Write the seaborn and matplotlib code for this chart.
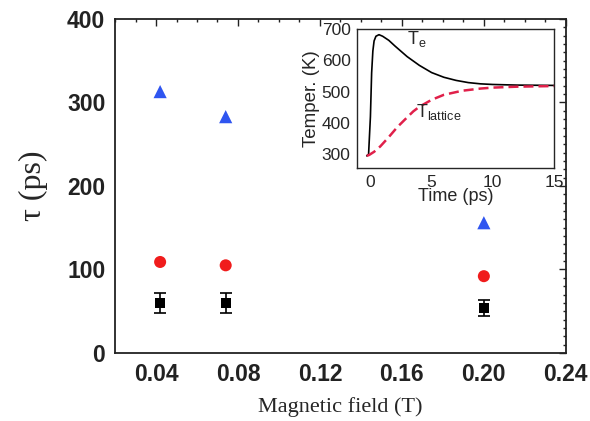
import numpy as np
import pandas as pd
import matplotlib
matplotlib.use("Agg")
import matplotlib.pyplot as plt
import seaborn as sns
from matplotlib.ticker import MultipleLocator

# main panel data
field = [0.042, 0.074, 0.200]
tau_tri = [313, 283, 156]
tau_circ = [109, 105, 92]
tau_sq = [60, 60, 54]
tau_sq_err = [12, 12, 10]

# inset data
t_e = [-0.3, -0.15, 0.0, 0.1, 0.2, 0.3, 0.45, 0.7, 1.0, 1.5, 2.0, 3.0, 4.0, 5.0,
       6.0, 7.0, 8.0, 9.0, 10.0, 12.0, 15.0]
temp_e = [295, 300, 420, 560, 630, 662, 677, 682, 677, 664, 646, 612, 584, 561,
          546, 536, 529, 525, 523, 521, 520]
t_lat = [-0.3, -0.1, 0.3, 0.8, 1.5, 2.2, 3.0, 3.5, 4.0, 5.0, 6.0, 7.5, 9.0,
         10.0, 12.0, 15.0]
temp_lat = [295, 298, 308, 325, 355, 387, 418, 437, 452, 474, 490, 503, 510,
            513, 516, 518]

sns.set_style("white")
plt.rcParams["font.family"] = ["Liberation Sans", "DejaVu Sans"]

fig = plt.figure(figsize=(5.9, 4.21), dpi=100)
ax = fig.add_axes([0.195, 0.1615, 0.764, 0.7935])

sns.scatterplot(x=field, y=tau_tri, marker="^", s=90, color="#2f55f0",
                edgecolor="none", ax=ax, zorder=3)
sns.scatterplot(x=field, y=tau_circ, marker="o", s=75, color="#f01c1c",
                edgecolor="none", ax=ax, zorder=3)
ax.errorbar(field, tau_sq, yerr=tau_sq_err, fmt="none", ecolor="black",
            elinewidth=1.2, capsize=4.5, capthick=1.2, zorder=2)
sns.scatterplot(x=field, y=tau_sq, marker="s", s=48, color="black",
                edgecolor="none", ax=ax, zorder=3)

ax.set_xlim(0.02, 0.24)
ax.set_ylim(0, 400)
ax.xaxis.set_major_locator(MultipleLocator(0.04))
ax.xaxis.set_minor_locator(MultipleLocator(0.01))
ax.yaxis.set_major_locator(MultipleLocator(100))
ax.yaxis.set_minor_locator(MultipleLocator(10))
ax.set_xticks([0.04, 0.08, 0.12, 0.16, 0.20, 0.24],
              ["0.04", "0.08", "0.12", "0.16", "0.20", "0.24"])
ax.tick_params(which="both", direction="in", top=True, right=True,
               width=1.0, colors="#222222")
ax.tick_params(which="major", length=5, labelsize=16.5, pad=7)
ax.tick_params(which="minor", length=2.5)
for lab in ax.get_xticklabels() + ax.get_yticklabels():
    lab.set_fontweight("bold")
for sp in ax.spines.values():
    sp.set_linewidth(1.3)
    sp.set_color("#222222")
ax.set_xlabel("Magnetic field (T)", family="Liberation Serif", fontsize=16,
              labelpad=8)
ax.set_ylabel("τ (ps)", family="Liberation Serif", fontsize=23, labelpad=14)

# inset
ins = fig.add_axes([0.605, 0.600, 0.334, 0.331])
sns.lineplot(x=t_e, y=temp_e, color="black", linewidth=1.2, ax=ins,
             sort=False)
sns.lineplot(x=t_lat, y=temp_lat, color="#e0204a", linewidth=1.8,
             linestyle=(0, (4, 2)), ax=ins, sort=False)
ins.set_xlim(-1.1, 15.0)
ins.set_ylim(255, 700)
ins.set_xticks([0, 5, 10, 15])
ins.xaxis.set_minor_locator(MultipleLocator(1))
ins.yaxis.set_major_locator(MultipleLocator(100))
ins.yaxis.set_minor_locator(MultipleLocator(20))
ins.tick_params(which="both", direction="out", width=0.8, pad=1)
ins.tick_params(which="major", length=3.5, labelsize=12.5)
ins.tick_params(which="minor", length=2)
for sp in ins.spines.values():
    sp.set_linewidth(1.0)
ins.set_xlabel("Time (ps)", fontsize=13, labelpad=-1)
ins.set_ylabel("Temper. (K)", fontsize=13.5, labelpad=1)
ins.text(3.0, 652, r"T$_\mathregular{e}$", fontsize=13)
ins.text(3.7, 418, r"T$_\mathregular{lattice}$", fontsize=13)

fig.savefig("out.png", dpi=100, facecolor="white")
